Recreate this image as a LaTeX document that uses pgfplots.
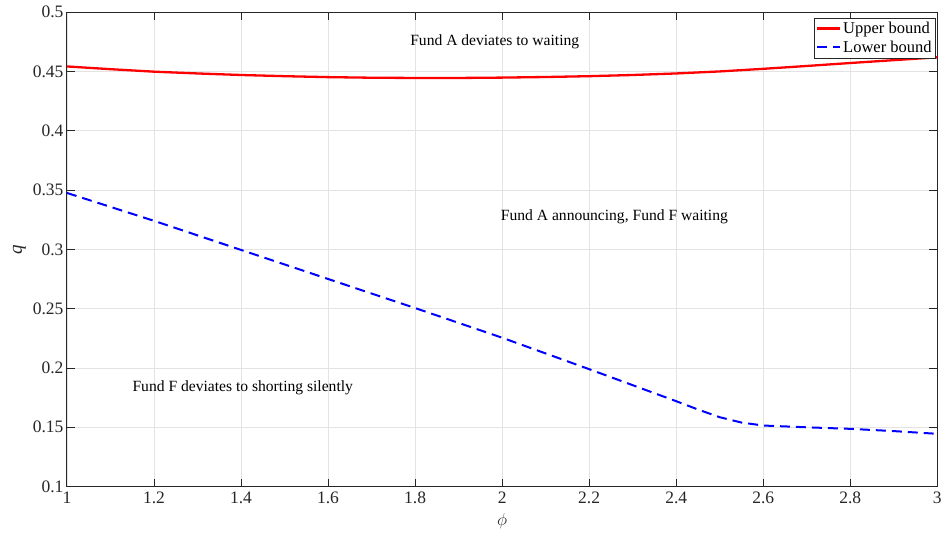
\documentclass[border=0pt]{standalone}
\usepackage{fontspec}
\setmainfont{Liberation Serif}
\usepackage{pgfplots}
\pgfplotsset{compat=1.18}
\definecolor{axgray}{gray}{0.15}
\begin{document}
\begin{tikzpicture}
\begin{axis}[
  scale only axis, width=871pt, height=475pt,
  xmin=1, xmax=3, ymin=0.1, ymax=0.5,
  xtick={1,1.2,1.4,1.6,1.8,2,2.2,2.4,2.6,2.8,3},
  ytick={0.1,0.15,0.2,0.25,0.3,0.35,0.4,0.45,0.5},
  grid=major, major grid style={gray!22, line width=0.7pt},
  tick align=inside, major tick length=8pt,
  axis line style={axgray, line width=0.9pt},
  tick style={axgray, line width=0.9pt},
  /pgf/number format/assume math mode=true,
  ticklabel style={font=\fontsize{17.5}{20}\selectfont, text=axgray},
  xticklabel style={/pgf/number format/fixed, /pgf/number format/precision=1, yshift=-2pt},
  yticklabel style={/pgf/number format/fixed, /pgf/number format/precision=2},
  xlabel={$\phi$}, ylabel={\textit{q}},
  xlabel style={yshift=-3pt},
  label style={font=\fontsize{19}{20}\selectfont, text=axgray},
  legend style={at={(rel axis cs:0.9985,0.988)}, anchor=north east,
    font=\fontsize{16.5}{18}\selectfont, draw=axgray, line width=0.8pt,
    inner xsep=2pt, inner ysep=2pt, row sep=2pt},
  legend cell align=left,
  legend image code/.code={\draw[#1] (0pt,0pt) -- (23pt,0pt);},
  clip=false,
]
\addplot[red, line width=2.3pt] coordinates {
(1.0,0.4541) (1.1,0.4518) (1.2,0.4497) (1.3,0.4482) (1.4,0.4469) (1.5,0.4459)
(1.6,0.4451) (1.7,0.4446) (1.8,0.4444) (1.9,0.4444) (2.0,0.4447) (2.1,0.4452)
(2.2,0.4459) (2.3,0.4469) (2.4,0.4482) (2.5,0.4499) (2.6,0.4521) (2.7,0.4545)
(2.8,0.4570) (2.9,0.4594) (3.0,0.4618)
};
\addlegendentry{Upper bound}
\addplot[blue, line width=2pt, dash pattern=on 10pt off 6pt] coordinates {
(1.0,0.3475) (1.2,0.3240) (1.4,0.2995) (1.6,0.2750) (1.8,0.2505) (2.0,0.2255)
(2.2,0.1990) (2.3,0.1855) (2.4,0.1720) (2.45,0.1650) (2.5,0.1585) (2.55,0.1540)
(2.6,0.1515) (2.7,0.1500) (2.8,0.1487) (2.9,0.1468) (3.0,0.1445)
};
\addlegendentry{Lower bound}
\node[font=\fontsize{15.6}{17}\selectfont] at (axis cs:1.983,0.4747) {Fund A deviates to waiting};
\node[font=\fontsize{15.6}{17}\selectfont] at (axis cs:2.258,0.3274) {Fund A announcing, Fund F waiting};
\node[font=\fontsize{15.6}{17}\selectfont] at (axis cs:1.404,0.1834) {Fund F deviates to shorting silently};
\path (rel axis cs:0,0) ++(-67pt,-53pt) coordinate (bl);
\path (rel axis cs:1,1) ++(7pt,12pt) coordinate (tr);
\path (bl) rectangle (tr);
\end{axis}
\end{tikzpicture}
\end{document}
